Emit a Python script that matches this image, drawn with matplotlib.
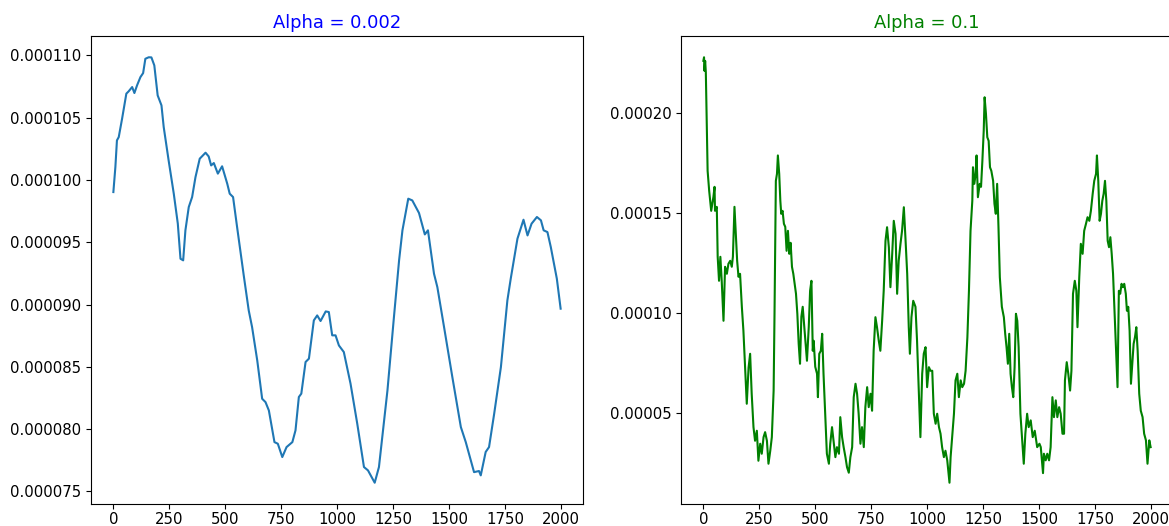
import matplotlib
matplotlib.use("Agg")
import matplotlib.pyplot as plt

plt.rcParams['font.size'] = 10.7
plt.rcParams['xtick.major.pad'] = 2.5

# alpha = 0.002 curve (values in 1e-6)
x_slow = [0, 9, 16, 24, 39, 58, 68, 84, 94, 106, 121, 133, 143, 158, 170, 183,
          198, 215, 225, 247, 270, 288, 300, 312, 322, 337, 352, 367, 386, 412,
          426, 437, 449, 467, 486, 509, 520, 535, 553, 583, 605, 620, 643, 665,
          680, 695, 720, 735, 755, 774, 800, 814, 829, 840, 859, 874, 896, 911,
          926, 949, 963, 978, 993, 1008, 1030, 1060, 1090, 1120, 1138, 1168,
          1187, 1225, 1254, 1277, 1292, 1318, 1336, 1366, 1392, 1406, 1433,
          1448, 1478, 1515, 1553, 1575, 1612, 1634, 1642, 1664, 1679, 1702,
          1732, 1761, 1776, 1806, 1833, 1851, 1869, 1893, 1911, 1923, 1940,
          1955, 1982, 1999]
y_slow = [99.03, 101.04, 103.18, 103.44, 104.92, 106.93, 107.11, 107.46, 106.98,
          107.6, 108.26, 108.58, 109.73, 109.85, 109.84, 109.2, 106.79, 105.99,
          104.25, 101.57, 98.9, 96.5, 93.68, 93.55, 95.96, 97.83, 98.63, 100.23,
          101.71, 102.19, 101.89, 101.17, 101.36, 100.51, 101.1, 99.7, 98.9,
          98.63, 96.22, 92.3, 89.53, 88.19, 85.52, 82.44, 82.17, 81.5, 78.96,
          78.83, 77.76, 78.56, 78.96, 79.9, 82.58, 82.85, 85.39, 85.66, 88.73,
          89.13, 88.68, 89.45, 89.4, 87.53, 87.53, 86.72, 86.19, 83.65, 80.44,
          76.96, 76.69, 75.7, 76.96, 83.11, 89.0, 93.55, 95.96, 98.5, 98.36,
          97.35, 95.63, 95.96, 92.48, 91.4, 88.19, 84.18, 80.17, 78.96, 76.55,
          76.64, 76.29, 78.17, 78.56, 81.24, 84.98, 90.34, 92.08, 95.29, 96.81,
          95.55, 96.49, 97.03, 96.76, 95.96, 95.82, 94.62, 92.08, 89.67]

# alpha = 0.1 curve (values in 1e-5)
x_fast = [0, 3, 5, 8, 11, 19, 26, 35, 45, 50, 52, 60, 64, 70, 76, 82, 90, 97,
          105, 112, 120, 127, 132, 139, 145, 151, 157, 164, 172, 179, 187, 194,
          202, 209, 216, 224, 231, 239, 246, 254, 261, 269, 276, 284, 291, 299,
          306, 314, 318, 324, 329, 333, 339, 344, 348, 354, 360, 366, 372, 378,
          384, 390, 396, 402, 408, 414, 420, 426, 432, 438, 444, 450, 456, 463,
          471, 477, 483, 489, 493, 500, 508, 512, 518, 525, 531, 537, 545, 552,
          561, 567, 575, 582, 590, 597, 606, 612, 620, 627, 635, 642, 650, 657,
          665, 672, 680, 687, 694, 702, 709, 717, 724, 732, 739, 747, 754, 761,
          769, 776, 784, 791, 799, 806, 814, 821, 829, 836, 844, 851, 859, 866,
          873, 881, 888, 896, 903, 911, 918, 923, 930, 938, 948, 955, 963, 970,
          978, 985, 993, 1000, 1008, 1015, 1023, 1030, 1038, 1045, 1053, 1060,
          1067, 1075, 1082, 1090, 1100, 1105, 1112, 1120, 1127, 1135, 1142,
          1150, 1157, 1165, 1172, 1180, 1187, 1194, 1202, 1205, 1211, 1217,
          1221, 1227, 1235, 1241, 1247, 1253, 1257, 1263, 1269, 1275, 1281,
          1287, 1295, 1301, 1307, 1313, 1319, 1325, 1334, 1343, 1349, 1355,
          1361, 1367, 1373, 1379, 1385, 1391, 1397, 1403, 1409, 1417, 1424,
          1432, 1439, 1447, 1454, 1463, 1472, 1481, 1492, 1502, 1508, 1518,
          1522, 1530, 1537, 1545, 1552, 1560, 1567, 1575, 1582, 1590, 1597,
          1605, 1612, 1616, 1624, 1631, 1639, 1645, 1652, 1660, 1667, 1672,
          1680, 1687, 1695, 1702, 1710, 1717, 1725, 1732, 1740, 1747, 1755,
          1759, 1765, 1771, 1777, 1783, 1789, 1795, 1801, 1807, 1813, 1819,
          1825, 1831, 1837, 1844, 1851, 1857, 1863, 1869, 1875, 1881, 1888,
          1893, 1899, 1905, 1911, 1917, 1923, 1929, 1935, 1941, 1948, 1955,
          1963, 1970, 1978, 1985, 1993, 1999]
y_fast = [22.6, 22.78, 22.1, 22.6, 22.03, 17.1, 16.1, 15.1, 15.8, 16.3, 15.1,
          15.3, 12.8, 11.6, 12.8, 11.6, 9.6, 12.3, 11.95, 12.45, 12.6, 12.3,
          12.8, 15.3, 13.95, 12.6, 11.8, 11.95, 10.3, 9.1, 7.1, 5.45, 7.25,
          7.95, 5.95, 4.28, 3.6, 4.1, 2.6, 3.45, 2.95, 3.78, 4.03, 3.6, 2.45,
          3.1, 3.78, 6.1, 9.95, 16.6, 16.95, 17.87, 16.95, 15.6, 14.95, 15.1,
          14.45, 14.3, 13.1, 14.1, 12.95, 13.5, 12.3, 11.95, 11.45, 10.95,
          9.95, 8.45, 7.45, 9.8, 10.3, 9.45, 8.6, 7.6, 9.28, 11.1, 11.6, 8.1,
          8.6, 7.3, 6.95, 5.78, 7.95, 8.1, 8.95, 6.95, 4.78, 2.95, 2.45, 3.45,
          4.28, 3.6, 2.78, 3.28, 2.95, 4.78, 3.78, 3.28, 2.78, 2.28, 2.0, 2.78,
          3.28, 5.78, 6.45, 5.95, 4.95, 3.45, 4.28, 3.28, 5.28, 6.28, 5.28,
          5.95, 5.1, 8.1, 9.78, 9.28, 8.6, 8.1, 9.6, 11.1, 13.6, 14.28, 13.28,
          11.28, 12.95, 14.6, 13.95, 10.95, 12.6, 13.45, 14.1, 15.28, 13.78,
          11.95, 9.28, 7.95, 9.78, 10.6, 10.3, 8.6, 6.1, 3.78, 6.95, 7.95,
          8.28, 6.28, 7.28, 7.1, 7.1, 4.95, 4.45, 4.95, 4.28, 3.95, 3.28, 2.78,
          3.1, 2.62, 1.5, 2.78, 3.78, 4.95, 6.62, 6.95, 5.78, 6.62, 6.28, 6.45,
          7.1, 8.78, 11.1, 14.1, 15.6, 17.28, 16.45, 16.95, 17.87, 15.78,
          16.45, 16.3, 17.6, 19.1, 20.78, 19.95, 18.78, 18.6, 17.28, 17.1,
          16.6, 15.45, 14.95, 16.45, 14.28, 11.78, 10.3, 9.78, 8.95, 8.28,
          7.45, 8.95, 6.95, 6.28, 5.78, 7.28, 9.95, 9.6, 8.28, 4.95, 3.78,
          2.45, 3.95, 4.95, 4.28, 4.62, 3.78, 4.1, 3.28, 3.45, 3.28, 1.98,
          2.95, 2.62, 2.95, 2.62, 3.28, 5.78, 4.78, 5.62, 4.78, 5.28, 4.95,
          3.95, 3.95, 6.62, 7.53, 6.95, 6.11, 7.1, 10.95, 11.6, 11.1, 9.28,
          11.78, 13.45, 12.95, 14.1, 14.45, 14.78, 14.6, 15.1, 15.95, 16.6,
          16.95, 17.87, 16.6, 14.6, 14.95, 15.6, 15.95, 16.6, 15.6, 13.6,
          13.28, 13.78, 12.95, 11.95, 10.28, 8.28, 6.28, 11.1, 10.95, 11.45,
          11.28, 11.45, 10.95, 10.1, 10.3, 9.1, 6.45, 7.45, 8.45, 8.78, 9.28,
          8.1, 5.95, 5.1, 4.78, 3.95, 3.62, 2.45, 3.62, 3.28]

y_slow = [v * 1e-6 for v in y_slow]
y_fast = [v * 1e-5 for v in y_fast]

fig = plt.figure(figsize=(11.69, 5.26), dpi=100)
ax1 = fig.add_axes([91 / 1169, 22 / 526, 492 / 1169, 468 / 526])
ax2 = fig.add_axes([681 / 1169, 22 / 526, 492 / 1169, 468 / 526])

ax1.plot(x_slow, y_slow)
ax1.set_title("Alpha = 0.002", color="blue")

ax2.plot(x_fast, y_fast, color="green")
ax2.set_title("Alpha = 0.1", color="green")

fig.savefig("out.png", dpi=100)
